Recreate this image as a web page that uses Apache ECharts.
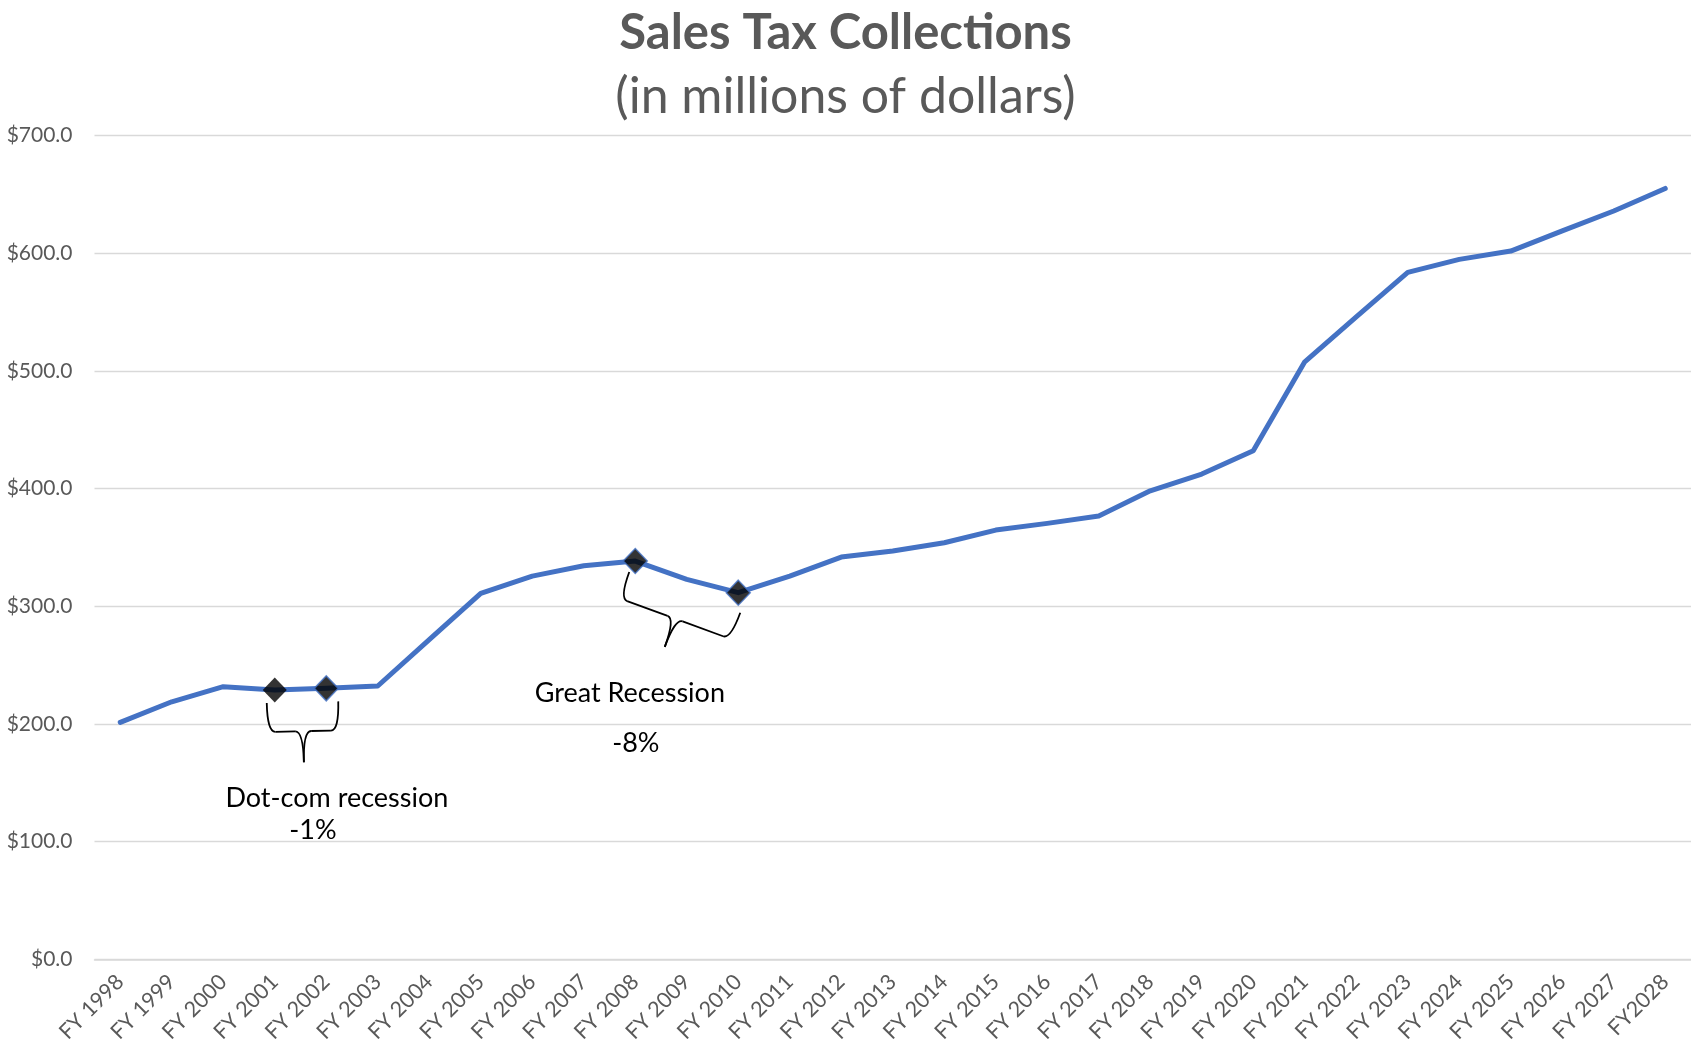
<!DOCTYPE html>
<html>
<head>
<meta charset="utf-8">
<script src="https://cdn.jsdelivr.net/npm/echarts@6/dist/echarts.min.js"></script>
<style>
html,body{margin:0;padding:0;background:#fff;}
#chart{width:1691px;height:1052px;}
</style>
</head>
<body>
<div id="chart"></div>
<script>
const categories = ['FY 1998','FY 1999','FY 2000','FY 2001','FY 2002','FY 2003','FY 2004','FY 2005','FY 2006','FY 2007','FY 2008','FY 2009','FY 2010','FY 2011','FY 2012','FY 2013','FY 2014','FY 2015','FY 2016','FY 2017','FY 2018','FY 2019','FY 2020','FY 2021','FY 2022','FY 2023','FY 2024','FY 2025','FY 2026','FY 2027','FY2028'];
const collections = [201.4, 218.9, 231.7, 228.9, 230.3, 232.3, 271.8, 311.0, 325.7, 334.5, 338.5, 322.9, 311.6, 325.7, 341.9, 347.0, 354.0, 364.8, 370.5, 376.7, 398.2, 412.4, 432.2, 507.8, 546.0, 583.8, 594.8, 601.9, 619.1, 635.9, 655.1];
const yTicks = [0, 100, 200, 300, 400, 500, 600, 700];
const markerYears = ['FY 2001', 'FY 2002', 'FY 2008', 'FY 2010'];
const recessions = [
  { name: 'Dot-com recession', change: '-1%', from: 'FY 2001', to: 'FY 2002' },
  { name: 'Great Recession', change: '-8%', from: 'FY 2008', to: 'FY 2010' }
];
const titleText = 'Sales Tax Collections';
const subtitleText = '(in millions of dollars)';

const FONT = 'Lato, "Open Sans", sans-serif';
const chart = echarts.init(document.getElementById('chart'), null, { renderer: 'canvas' });

const markerData = markerYears.map((c, i) => ({
  value: [c, collections[categories.indexOf(c)]],
  itemStyle: i === 0 ? { borderWidth: 0 } : {}
}));

chart.setOption({
  animation: false,
  backgroundColor: '#ffffff',
  title: [
    { text: titleText, left: 'center', top: 4,
      textStyle: { fontFamily: FONT, fontWeight: 'bold', fontSize: 49, color: '#595959' } },
    { text: subtitleText, left: 'center', top: 67,
      textStyle: { fontFamily: FONT, fontWeight: 'normal', fontSize: 50, color: '#595959' } }
  ],
  grid: { left: 94.5, top: 135.6, bottom: 92.6, right: -7, containLabel: false },
  xAxis: {
    type: 'category',
    data: categories,
    boundaryGap: true,
    axisLine: { show: true, lineStyle: { color: '#d9d9d9', width: 1.5 } },
    axisTick: { show: false },
    axisLabel: { rotate: 45, interval: 0, margin: 19, fontFamily: FONT, fontSize: 21.5, color: '#595959' },
    splitLine: { show: false }
  },
  yAxis: {
    type: 'value',
    min: yTicks[0], max: yTicks[yTicks.length - 1], interval: yTicks[1] - yTicks[0],
    axisLine: { show: false },
    axisTick: { show: false },
    axisLabel: { margin: 22, fontFamily: FONT, fontSize: 21, color: '#595959',
      formatter: v => '$' + v.toFixed(1) },
    splitLine: { show: true, lineStyle: { color: '#d9d9d9', width: 1.3 } }
  },
  series: [
    {
      type: 'line',
      data: collections,
      symbol: 'none',
      lineStyle: { color: '#4472C4', width: 5, cap: 'round', join: 'round' },
      z: 2
    },
    {
      type: 'scatter',
      data: markerData,
      symbol: 'diamond',
      symbolSize: [24, 25],
      itemStyle: { color: '#000000', borderColor: '#4472C4', borderWidth: 1.5 },
      z: 3
    }
  ]
});

function pix(cat) {
  const i = categories.indexOf(cat);
  return chart.convertToPixel({ seriesIndex: 0 }, [i, collections[i]]);
}

function braceElements(p1, p2, d, t, r) {
  const dx = p2[0] - p1[0], dy = p2[1] - p1[1];
  const L = Math.hypot(dx, dy);
  const u = [dx / L, dy / L];
  const n = [-u[1], u[0]];
  const add = (p, a, v) => [p[0] + a * v[0], p[1] + a * v[1]];
  const m = [(p1[0] + p2[0]) / 2, (p1[1] + p2[1]) / 2];
  const c1 = add(p1, d, n), c2 = add(p2, d, n), cm = add(m, d, n);
  const a1 = add(c1, r, u), b1 = add(cm, -r, u), b2 = add(cm, r, u), a2 = add(c2, -r, u);
  const tip = add(m, d + t, n);
  const style = { stroke: '#000000', lineWidth: 1.8, fill: null };
  const q = (s, c, e) => ({ type: 'bezierCurve', silent: true, z: 1,
    shape: { x1: s[0], y1: s[1], x2: e[0], y2: e[1], cpx1: c[0], cpy1: c[1] }, style });
  const l = (s, e) => ({ type: 'line', silent: true, z: 1,
    shape: { x1: s[0], y1: s[1], x2: e[0], y2: e[1] }, style });
  return {
    tip,
    els: [q(p1, c1, a1), l(a1, b1), q(b1, cm, tip), q(tip, cm, b2), l(b2, a2), q(a2, c2, p2)]
  };
}

const braceCfg = [
  { o1: [-8, 13], o2: [12, 13], d: 29, t: 31, r: 8, nameOff: [33, 44], chgOff: [9, 76] },
  { o1: [-6, 11], o2: [2, 20], d: 28, t: 30, r: 8, nameOff: [-35, 55], chgOff: [-29, 105] }
];

const graphics = [];
recessions.forEach((rec, i) => {
  const cfg = braceCfg[i];
  const a = pix(rec.from), b = pix(rec.to);
  const p1 = [a[0] + cfg.o1[0], a[1] + cfg.o1[1]];
  const p2 = [b[0] + cfg.o2[0], b[1] + cfg.o2[1]];
  const br = braceElements(p1, p2, cfg.d, cfg.t, cfg.r);
  br.els.forEach(e => graphics.push(e));
  const tip = br.tip;
  const fs = 27;
  graphics.push({
    type: 'text', silent: true, z: 5,
    x: tip[0] + cfg.nameOff[0], y: tip[1] + cfg.nameOff[1] - 0.8 * fs,
    style: { text: rec.name, fontFamily: FONT, fontSize: fs, fill: '#000000', align: 'center', verticalAlign: 'top' }
  });
  graphics.push({
    type: 'text', silent: true, z: 5,
    x: tip[0] + cfg.chgOff[0], y: tip[1] + cfg.chgOff[1] - 0.8 * fs,
    style: { text: rec.change, fontFamily: FONT, fontSize: fs, fill: '#000000', align: 'center', verticalAlign: 'top' }
  });
});
chart.setOption({ graphic: graphics });
</script>
</body>
</html>
